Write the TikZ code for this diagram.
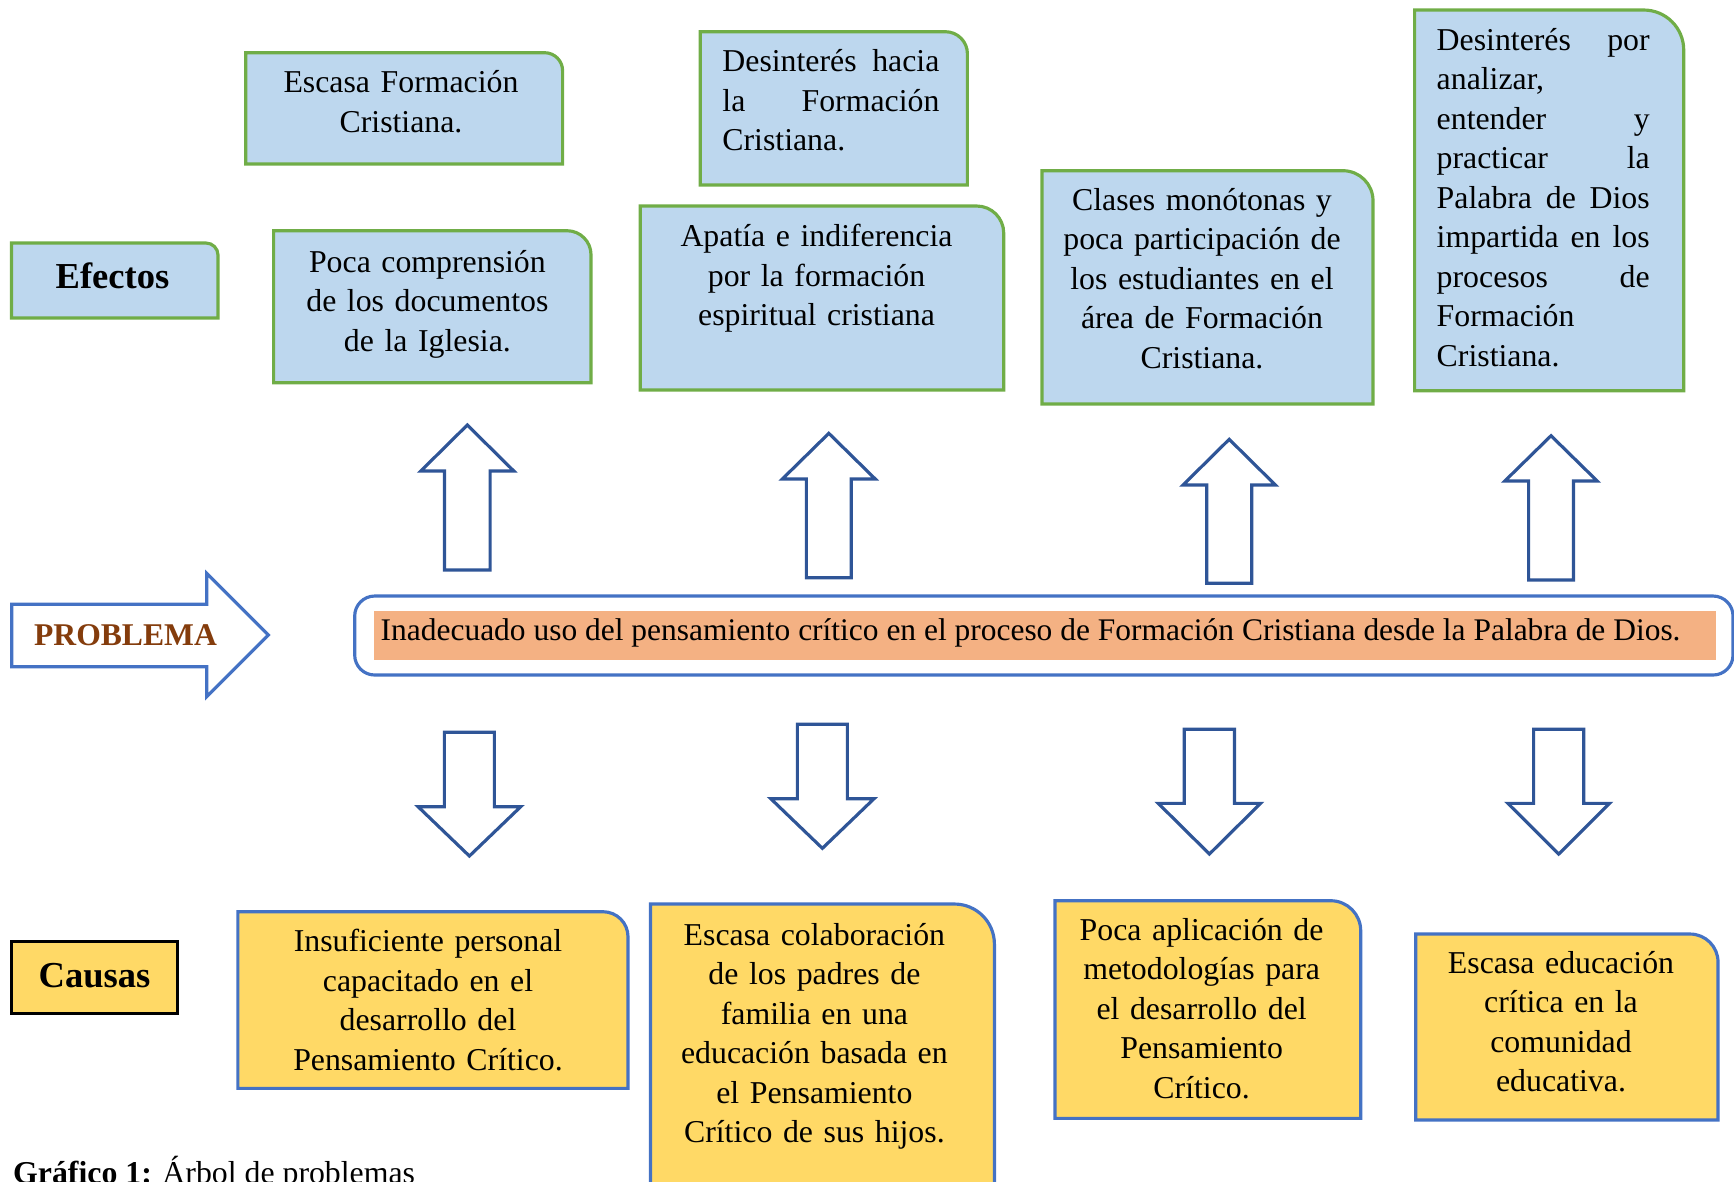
\documentclass[tikz,border=0pt]{standalone}
\usepackage{fontspec}
\setmainfont{Liberation Serif}
\usepackage{tikz}
\definecolor{azulEf}{HTML}{BDD7EE}
\definecolor{verdeEf}{HTML}{70AD47}
\definecolor{amarilloCa}{HTML}{FFD966}
\definecolor{azulCa}{HTML}{4472C4}
\definecolor{azulFl}{HTML}{2F5597}
\definecolor{naranja}{HTML}{F4B183}
\definecolor{cafe}{HTML}{843C0C}
\tikzset{
	efecto/.style  = {draw=verdeEf, fill=azulEf, line width=0.9pt},
	causa/.style   = {draw=azulCa, fill=amarilloCa, line width=0.9pt},
	bloque/.style  = {draw=azulFl, fill=white, line width=0.9pt},
	texto/.style   = {inner sep=0pt, anchor=base, align=center, text width=32mm,
		font=\fontsize{9.05}{11.25}\selectfont},
	justo/.style   = {inner sep=0pt, anchor=base west, align=left,
		font=\fontsize{9.05}{11.25}\selectfont},
	titulo/.style  = {inner sep=0pt, anchor=base, font=\fontsize{10.4}{12}\selectfont\bfseries}
}
% caja con la esquina superior derecha redondeada
\newcommand{\caja}[6]{\draw[#1] (#2,#5) -- (#2,#3) [rounded corners=#6] -- (#4,#3) [sharp corners] -- (#4,#5) -- cycle;}
% flecha de bloque: x, punta, base, cola, medio cuerpo, media cabeza
\newcommand{\flecha}[6]{\draw[bloque] (#1,#2) -- ({#1+#6},#3) -- ({#1+#5},#3) -- ({#1+#5},#4) -- ({#1-#5},#4) -- ({#1-#5},#3) -- ({#1-#6},#3) -- cycle;}
% linea justificada
\newcommand{\js}[2]{\makebox[#1]{#2}}

\begin{document}
\begin{tikzpicture}[x=0.1mm, y=-0.1mm]
\useasboundingbox (0,0) rectangle (1734,1181);

% efectos
\caja{efecto}{11.5}{243}{218}{318}{1.2mm}
\caja{efecto}{245.7}{52.7}{562.6}{164}{1.8mm}
\caja{efecto}{273.6}{230.7}{591}{382.7}{2.4mm}
\caja{efecto}{700.3}{31.7}{967.4}{185}{2.2mm}
\caja{efecto}{640.2}{206}{1003.7}{390}{2.7mm}
\caja{efecto}{1042}{170.7}{1373}{404}{3mm}
\caja{efecto}{1414.6}{10}{1683.7}{390.7}{4mm}

% causas
\draw[fill=amarilloCa, line width=0.9pt] (11.2,941.7) rectangle (177.7,1013.3);
\caja{causa}{237.9}{911.7}{628}{1088.3}{2.5mm}
\caja{causa}{650.5}{904}{994.4}{1200}{4mm}
\caja{causa}{1055}{900.7}{1360.7}{1118.3}{3mm}
\caja{causa}{1415.8}{934}{1718}{1120}{2.8mm}

% problema
\draw[draw=azulCa, fill=white, line width=0.9pt] (11.7,604.3) -- (206.7,604.3) -- (206.7,573.3)
	-- (268.3,635) -- (206.7,696.7) -- (206.7,666.7) -- (11.7,666.7) -- cycle;
\draw[draw=azulCa, line width=0.9pt, rounded corners=2mm] (354.7,596) rectangle (1733,675);
\fill[naranja] (374,611) rectangle (1716,660);

% flechas hacia arriba y hacia abajo
\flecha{467.3}{425}{471}{570}{22.8}{46.5}
\flecha{828.8}{433.3}{479}{577.7}{22.4}{46.5}
\flecha{1229.2}{439.3}{485}{583.3}{22.5}{46.2}
\flecha{1551}{435.7}{481}{580}{22.4}{46.2}
\flecha{469.4}{856}{806.7}{732.3}{25}{51.3}
\flecha{822.4}{848.3}{798.7}{724.3}{25}{51.6}
\flecha{1209.4}{854}{803.3}{729.3}{25.1}{51.2}
\flecha{1558.7}{854}{803.3}{729.3}{25.1}{50.9}

\draw
node at (112.5,288) [titulo] (efectos) {Efectos}
node at (401,92.7) [texto] (ef1) {Escasa Formación\\Cristiana.}
node at (427.4,272) [texto] (ef2) {Poca comprensión\\de los documentos\\de la Iglesia.}
node at (721.7,71.7) [justo, text width=21.7mm] (ef3) {\js{21.7mm}{Desinterés\hfill hacia}\\\js{21.7mm}{la\hfill Formación}\\Cristiana.}
node at (816.5,246.7) [texto] (ef4) {Apatía e indiferencia\\por la formación\\espiritual cristiana}
node at (1202,210) [texto] (ef5) {Clases monótonas y\\poca participación de\\los estudiantes en el\\área de Formación\\Cristiana.}
node at (1436,50) [justo, text width=21.3mm] (ef6) {\js{21.3mm}{Desinterés\hfill por}\\analizar,\\\js{21.3mm}{entender\hfill y}\\\js{21.3mm}{practicar\hfill la}\\\js{21.3mm}{Palabra\hfill de\hfill Dios}\\\js{21.3mm}{impartida\hfill en\hfill los}\\\js{21.3mm}{procesos\hfill de}\\Formación\\Cristiana.};

\draw
node at (125.5,645) [titulo, font=\fontsize{9}{11}\selectfont\bfseries, text=cafe] (problema) {PROBLEMA}
node at (380,640) [justo, font=\fontsize{8.95}{11}\selectfont] (central) {Inadecuado uso del pensamiento crítico en el proceso de Formación Cristiana desde la Palabra de Dios.};

\draw
node at (94.6,987.3) [titulo] (causas) {Causas}
node at (428,951.7) [texto] (ca1) {Insuficiente personal\\capacitado en el\\desarrollo del\\Pensamiento Crítico.}
node at (814.4,945) [texto] (ca2) {Escasa colaboración\\de los padres de\\familia en una\\educación basada en\\el Pensamiento\\Crítico de sus hijos.}
node at (1201.6,940) [texto] (ca3) {Poca aplicación de\\metodologías para\\el desarrollo del\\Pensamiento\\Crítico.}
node at (1561,973.3) [texto] (ca4) {Escasa educación\\crítica en la\\comunidad\\educativa.}
node at (12.5,1183) [justo] (grafico) {\textbf{Gráfico 1:} Árbol de problemas};
\end{tikzpicture}
\end{document}
